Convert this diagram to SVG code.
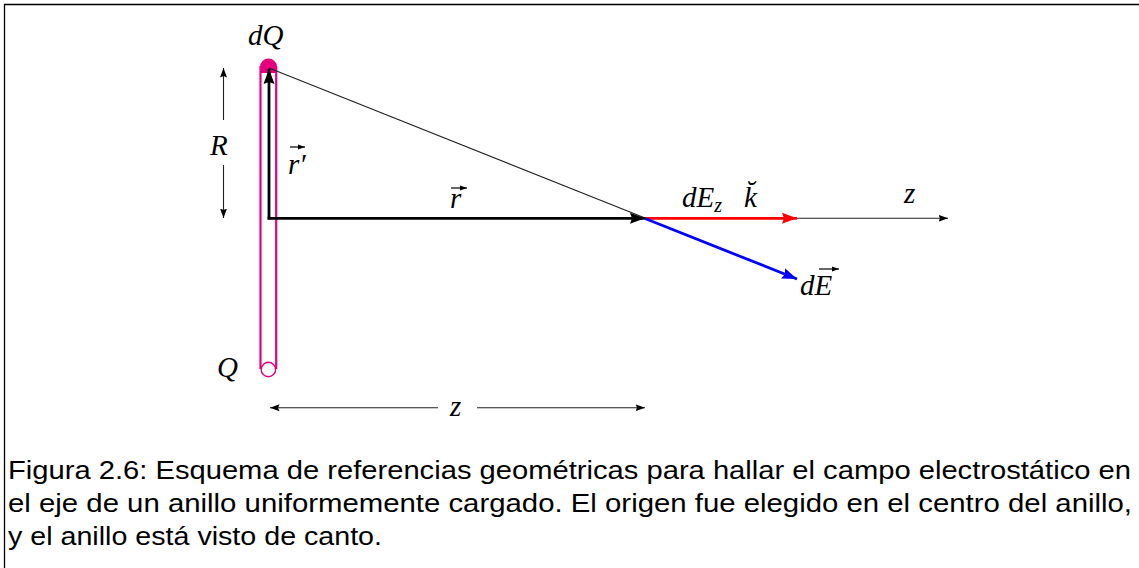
<svg xmlns="http://www.w3.org/2000/svg" width="1139" height="568" viewBox="0 0 1139 568">
<style>
.m{font-family:"Liberation Serif","DejaVu Serif",serif;font-style:italic;font-size:29px;fill:#000}
.cap{font-family:"Liberation Sans",Arial,sans-serif;font-size:25px;fill:#000}
.thin{stroke:#222;stroke-width:1.1;fill:none}
.thick{stroke:#000;stroke-width:2.8;fill:none}
.ring{stroke:#e6007e;stroke-width:2.2;fill:none}
</style>
<defs>
<marker id="hk" markerUnits="userSpaceOnUse" markerWidth="16" markerHeight="12" refX="15" refY="6" orient="auto"><path d="M0,0.5 L15,6 L0,11.5 L2,6 Z" fill="#000"/></marker>
<marker id="hr" markerUnits="userSpaceOnUse" markerWidth="16" markerHeight="12" refX="15" refY="6" orient="auto"><path d="M0,0.5 L15,6 L0,11.5 L2,6 Z" fill="#ff0000"/></marker>
<marker id="hb" markerUnits="userSpaceOnUse" markerWidth="16" markerHeight="12" refX="15" refY="6" orient="auto"><path d="M0,0.5 L15,6 L0,11.5 L2,6 Z" fill="#0000ff"/></marker>
<marker id="ht" markerUnits="userSpaceOnUse" markerWidth="10" markerHeight="8" refX="9.5" refY="4" orient="auto"><path d="M0,0.5 L9.5,4 L0,7.5 L1.5,4 Z" fill="#000"/></marker>
<marker id="hts" markerUnits="userSpaceOnUse" markerWidth="10" markerHeight="8" refX="0" refY="4" orient="auto"><path d="M9.5,0.5 L0,4 L9.5,7.5 L8,4 Z" fill="#000"/></marker>
<marker id="va" markerUnits="userSpaceOnUse" markerWidth="8" markerHeight="6" refX="7" refY="3" orient="auto"><path d="M0,0.5 L7,3 L0,5.5 Z" fill="#000"/></marker>
</defs>
<g id="frame"><path d="M4.5,568 V4.5 H1139" stroke="#000" stroke-width="1.3" fill="none"/></g>
<g id="ring">
<line class="ring" x1="260.5" y1="66" x2="260.5" y2="369"/>
<line class="ring" x1="276.2" y1="66" x2="276.2" y2="369"/>
<path d="M260,67 A8.3,8.3 0 0 1 277,67 L277,73 L260,73 Z" fill="#e6007e"/>
<circle cx="268.4" cy="369.5" r="7.2" fill="#fff" stroke="#e6007e" stroke-width="1.4"/>
</g>
<g id="connectors">
<line class="thin" x1="269" y1="68" x2="645" y2="218"/>
<line class="thick" x1="269" y1="219.4" x2="269" y2="69" marker-end="url(#hk)"/>
<line class="thick" x1="267.6" y1="218.3" x2="645" y2="218.3" marker-end="url(#hk)"/>
<line class="thin" x1="797" y1="218.3" x2="948" y2="218.3" marker-end="url(#ht)"/>
<line stroke="#ff0000" stroke-width="2.8" x1="645" y1="218.3" x2="797" y2="218.3" marker-end="url(#hr)"/>
<line stroke="#0000ff" stroke-width="2.8" x1="645" y1="218.5" x2="797" y2="279" marker-end="url(#hb)"/>
<line class="thin" x1="223.5" y1="120" x2="223.5" y2="68" marker-end="url(#ht)"/>
<line class="thin" x1="223.5" y1="165" x2="223.5" y2="218" marker-end="url(#ht)"/>
<line class="thin" x1="270" y1="407.7" x2="438" y2="407.7" marker-start="url(#hts)"/>
<line class="thin" x1="477" y1="407.7" x2="645" y2="407.7" marker-end="url(#ht)"/>
</g>
<g id="labels">
<text class="m" x="248" y="45">dQ</text>
<text class="m" x="210" y="155">R</text>
<g id="rprime"><text class="m" x="288" y="174">r′</text><line x1="290" y1="147" x2="305" y2="147" stroke="#000" stroke-width="1.2" marker-end="url(#va)"/></g>
<g id="rvec"><text class="m" x="450" y="208">r</text><line x1="451" y1="188" x2="467" y2="188" stroke="#000" stroke-width="1.2" marker-end="url(#va)"/></g>
<text class="m" x="682" y="207">dE<tspan font-size="20" dy="5">z</tspan></text>
<text class="m" x="744" y="207">k̆</text>
<text class="m" x="904" y="203">z</text>
<g id="dE"><text class="m" x="800" y="295">dE</text><line x1="819" y1="269" x2="839" y2="269" stroke="#000" stroke-width="1.2" marker-end="url(#va)"/></g>
<text class="m" x="217" y="377">Q</text>
<text class="m" x="450" y="416">z</text>
</g>
<g id="caption">
<text class="cap" x="8" y="479" textLength="1123" lengthAdjust="spacingAndGlyphs">Figura 2.6: Esquema de referencias geométricas para hallar el campo electrostático en</text>
<text class="cap" x="8" y="512" textLength="1124" lengthAdjust="spacingAndGlyphs">el eje de un anillo uniformemente cargado. El origen fue elegido en el centro del anillo,</text>
<text class="cap" x="8" y="545" textLength="374" lengthAdjust="spacingAndGlyphs">y el anillo está visto de canto.</text>
</g>
</svg>
